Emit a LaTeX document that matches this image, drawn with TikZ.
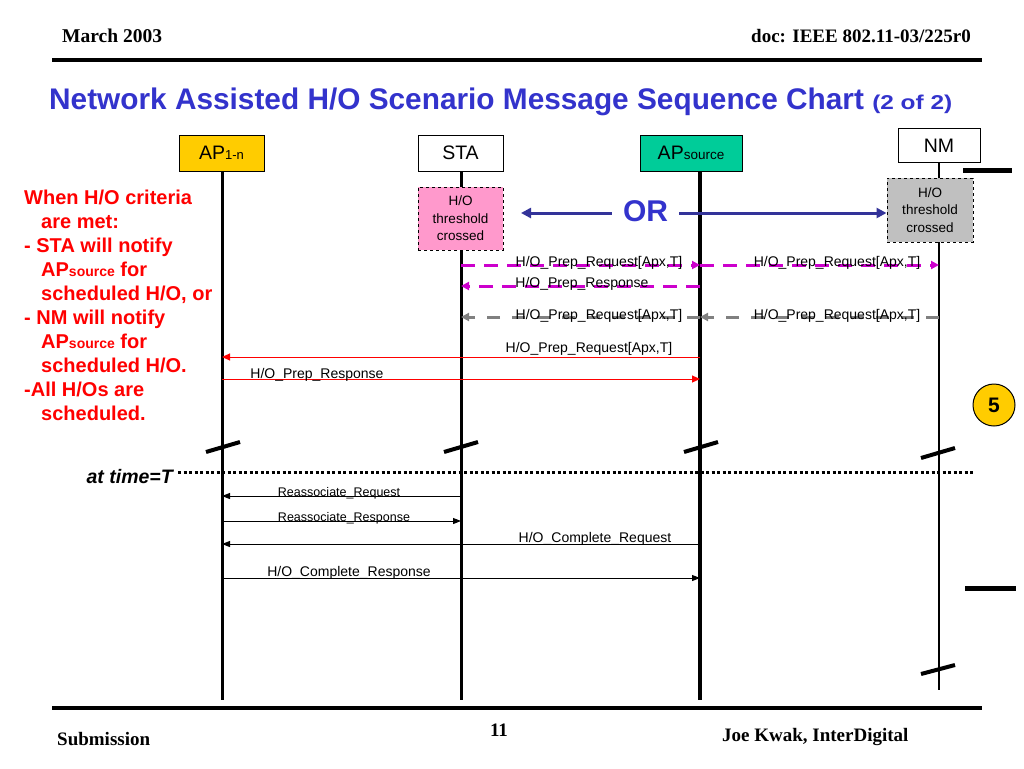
\documentclass[tikz,border=0pt]{standalone}
\usepackage{fontspec}
\setmainfont{Liberation Sans}
\newfontfamily\tnr{Liberation Serif}
\usetikzlibrary{arrows.meta,calc}
\definecolor{ttlblue}{HTML}{3333CC}
\definecolor{orblue}{HTML}{333399}
\definecolor{apyel}{HTML}{FFCC00}
\definecolor{apteal}{HTML}{00CC99}
\definecolor{pinkbox}{HTML}{FF99CC}
\definecolor{graybox}{HTML}{C0C0C0}
\definecolor{magline}{HTML}{CC00CC}
\definecolor{grayline}{HTML}{808080}
\definecolor{redtxt}{HTML}{FF0000}
\newcommand\fsz[2]{\fontsize{#1}{#2}\selectfont}
\tikzset{
  objbox/.style={draw, line width=1pt, inner sep=0pt, minimum height=36pt, font=\fsz{19.5}{20}},
  life/.style={line width=3pt},
  brk/.style={line width=4pt},
  thr/.style={draw, dashed, line width=1pt, inner sep=0pt, align=center, font=\fsz{13.5}{17.5}},
  magarr/.style={magline, line width=3pt, dash pattern=on 14pt off 9pt, -{Triangle[length=8pt,width=8pt]}},
  grayarr/.style={grayline, line width=3pt, dash pattern=on 13pt off 12pt, -{Triangle[length=8pt,width=8pt]}},
  redarr/.style={redtxt, line width=1pt, -{Triangle[length=8pt,width=7pt]}},
  blkarr/.style={black, line width=1pt, -{Triangle[length=8pt,width=6pt]}},
  lbl/.style={anchor=base, inner sep=0pt, font=\fsz{14}{14}},
  slbl/.style={anchor=base, inner sep=0pt, font=\fsz{12.5}{12.5}},
  orarr/.style={orblue, line width=3pt, -{Triangle[length=10pt,width=10pt]}},
}
\begin{document}
\begin{tikzpicture}[x=1pt,y=-1pt]
\useasboundingbox (0,0) rectangle (1024,768);

% header
\node[anchor=base west, inner sep=0pt, font=\tnr\bfseries\fsz{19.5}{19.5}] (hdl) at (62,43) {March 2003};
\node[anchor=base east, inner sep=0pt, font=\tnr\bfseries\fsz{19}{19}] (hdr) at (971,43) {doc: IEEE 802.11-03/225r0};
\draw[line width=4pt] (52,60) coordinate (rl) -- (982,60) coordinate (rr);

% title
\node[anchor=base west, inner sep=0pt, text=ttlblue, font=\bfseries\fsz{29.8}{29.8}] (title) at (49,109)
  {Network Assisted H/O Scenario Message Sequence Chart \fsz{20}{20}\scalebox{1.22}[1]{(2 of 2)}};

% lifeline bottoms
\coordinate (apB) at (222,700);
\coordinate (staB) at (461,700);
\coordinate (apsB) at (700,700);
\coordinate (nmB) at (939,690);

% object boxes
\node[objbox, fill=apyel, minimum width=85pt] (ap) at (221.5,153) {AP{\fsz{13}{13}1-n}};
\node[objbox, fill=white, minimum width=85pt] (sta) at (460.5,153) {STA};
\node[objbox, fill=apteal, minimum width=102pt] (aps) at (691,153) {AP{\fsz{13.5}{13.5}source}};
\node[objbox, fill=white, minimum width=82pt, minimum height=34pt] (nm) at (939,145.5) {NM};

% lifelines
\draw[life] (apB |- ap.south) -- (apB);
\draw[life] (staB |- sta.south) -- (staB);
\draw[line width=4pt] (apsB |- aps.south) -- (apsB);
\draw[line width=2pt] (nmB |- nm.south) -- (nmB);

% breaks
\draw[brk] (206,452) -- (240,442);
\draw[brk] (444,452) -- (478,442);
\draw[brk] (684,452) -- (718,442);
\draw[brk] (921,458) -- (955,448);
\draw[brk] (921,674) -- (955,665);

% side bars
\draw[line width=5pt] (963,170) -- (1012,170);
\draw[line width=5pt] (965,588) -- (1016,588);

% threshold boxes
\node[thr, fill=pinkbox, minimum width=85pt, minimum height=63pt] (pink) at (460.5,218.5) {H/O\\threshold\\crossed};
\node[thr, fill=graybox, minimum width=86pt, minimum height=64pt] (gray) at (930,210) {H/O\\threshold\\crossed};

% OR
\node[text=ttlblue, font=\bfseries\fsz{30}{30}, inner xsep=11pt, inner ysep=0pt] (or) at (645.5,211) {OR};
\coordinate (orL) at (521,213);
\draw[orarr] (or.west |- orL) -- (orL);
\draw[orarr] (or.east |- orL) -- (gray.west |- orL);

% red explanation
\node[anchor=north west, inner sep=0pt, align=left, text=redtxt, font=\bfseries\fsz{20}{24}] (expl) at (24,189.5)
{When H/O criteria\\
\hspace*{17pt}are met:\\
- STA will notify\\
\hspace*{17pt}AP{\fsz{14}{14}source} for\\
\hspace*{17pt}scheduled H/O, or\\
- NM will notify\\
\hspace*{17pt}AP{\fsz{14}{14}source} for\\
\hspace*{17pt}scheduled H/O.\\
-All H/Os are\\
\hspace*{17pt}scheduled.};

% circle 5
\node[circle, draw, line width=1pt, fill=apyel, minimum size=42pt, inner sep=0pt, font=\bfseries\fsz{21}{21}] (five) at (994,405) {5};

% magenta messages
\draw[magarr] (staB |- 0,265) -- (apsB |- 0,265);
\draw[magarr] (apsB |- 0,265) -- (nmB |- 0,265);
\node[lbl] (m1) at (599,266) {H/O\_Prep\_Request[Apx,T]};
\node[lbl] (m2) at (837,266) {H/O\_Prep\_Request[Apx,T]};
\draw[magarr] (apsB |- 0,286) -- (staB |- 0,286);
\node[lbl] (m3) at (582,287) {H/O\_Prep\_Response};

% gray messages
\draw[grayarr] (nmB |- 0,317) -- (apsB |- 0,317);
\draw[grayarr] (apsB |- 0,317) -- (staB |- 0,317);
\node[lbl] (g1) at (599,319) {H/O\_Prep\_Request[Apx,T]};
\node[lbl] (g2) at (837,319) {H/O\_Prep\_Request[Apx,T]};

% red messages
\draw[redarr] (apsB |- 0,357) -- (apB |- 0,357);
\node[lbl] (r1) at (589,352) {H/O\_Prep\_Request[Apx,T]};
\draw[redarr] (apB |- 0,379) -- (apsB |- 0,379);
\node[lbl] (r2) at (317,378) {H/O\_Prep\_Response};

% time line
\draw[line width=3pt, dash pattern=on 3pt off 2.5pt] (178,472) coordinate (tL) -- (973,472) coordinate (tR);
\node[anchor=base east, inner sep=0pt, font=\bfseries\itshape\fsz{19.5}{19.5}] (tt) at (173,483) {at time=T};

% black messages
\draw[blkarr] (staB |- 0,496) -- (apB |- 0,496);
\node[slbl] (b1) at (339,496) {Reassociate\_Request};
\draw[blkarr] (apB |- 0,521) -- (staB |- 0,521);
\node[slbl] (b2) at (344,521) {Reassociate\_Response};
\draw[blkarr] (apsB |- 0,544) -- (apB |- 0,544);
\node[lbl] (b3) at (595,542) {H/O\_Complete\_Request};
\draw[blkarr] (apB |- 0,578) -- (apsB |- 0,578);
\node[lbl] (b4) at (349,576) {H/O\_Complete\_Response};

% footer
\draw[line width=4pt] (52,708) coordinate (fl) -- (982,708) coordinate (fr);
\node[anchor=base west, inner sep=0pt, font=\tnr\bfseries\fsz{19}{19}] (sub) at (57,745) {Submission};
\node[anchor=base, inner sep=0pt, font=\tnr\bfseries\fsz{19}{19}] (pg) at (499,736) {11};
\node[anchor=base west, inner sep=0pt, font=\tnr\bfseries\fsz{19}{19}] (auth) at (722,741) {Joe Kwak, InterDigital};
\end{tikzpicture}
\end{document}
